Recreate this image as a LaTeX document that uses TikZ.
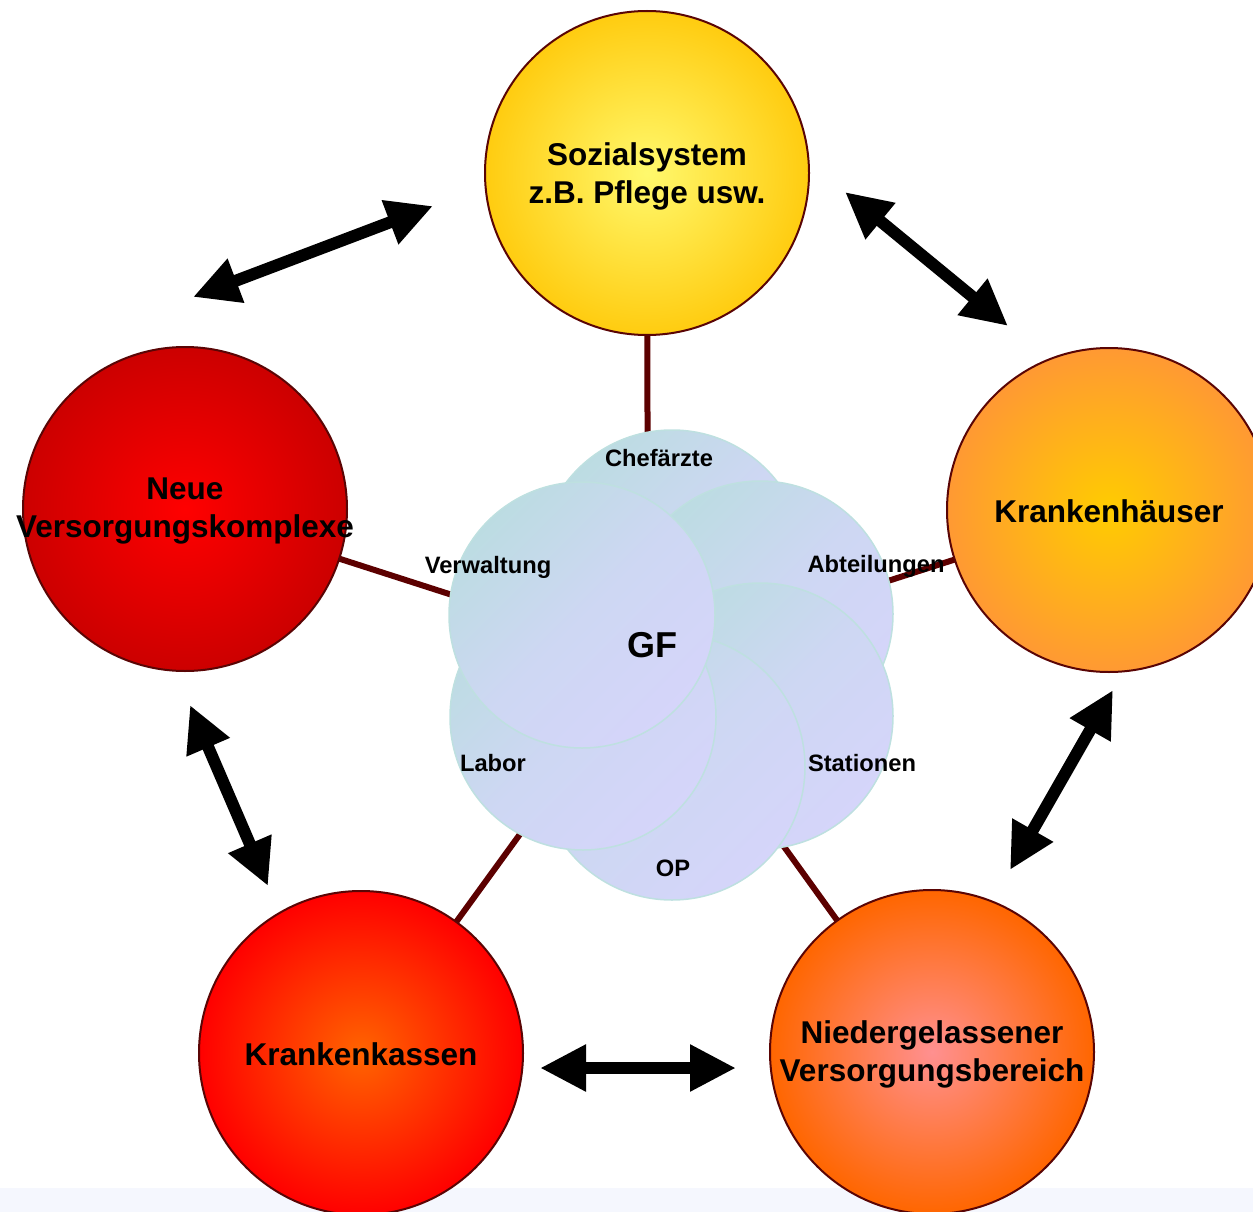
\documentclass[tikz,border=0pt]{standalone}
\usepackage{fontspec}
\setmainfont{Liberation Sans}
\usetikzlibrary{arrows.meta,backgrounds}
\definecolor{rand}{HTML}{5A0505}
\definecolor{linie}{HTML}{5C0000}
\definecolor{blaserand}{HTML}{BEE0E0}
\definecolor{tuerkis}{HTML}{BCDCE2}
\definecolor{lila}{HTML}{D5D5FA}
\definecolor{streifen}{HTML}{F5F7FE}
\tikzset{
  kreis/.style={circle,draw=rand,line width=2pt,minimum size=324pt,inner sep=0pt},
  blase/.style={circle,draw=blaserand,line width=1.5pt,minimum size=266pt,inner sep=0pt,
    top color=tuerkis,bottom color=lila,middle color=lila!70!tuerkis,shading angle=45},
  gross/.style={font=\bfseries\fontsize{31.5}{38}\selectfont,align=center},
  klein/.style={font=\bfseries\fontsize{23.7}{28}\selectfont},
  verb/.style={draw=linie,line width=6pt},
  dpfeil/.style={{Triangle[length=46pt,width=44pt]}-{Triangle[length=46pt,width=44pt]},line width=12pt},
}
\begin{document}
\begin{tikzpicture}[x=1pt,y=-1pt]
  \useasboundingbox (0,0) rectangle (1253,1212);
  \node[kreis,inner color=yellow!55!white!95!orange,outer color={rgb,255:red,255;green,204;blue,16}] (soz) at (647,173) {};
  \node[kreis,inner color={rgb,255:red,255;green,204;blue,0},outer color={rgb,255:red,255;green,153;blue,51}] (kh) at (1109,510) {};
  \node[kreis,inner color={rgb,255:red,255;green,0;blue,0},outer color={rgb,255:red,204;green,0;blue,0}] (nvk) at (185,509) {};
  \node[kreis,inner color={rgb,255:red,255;green,100;blue,0},outer color={rgb,255:red,255;green,0;blue,0}] (kk) at (361,1053) {};
  \node[kreis,inner color={rgb,255:red,255;green,144;blue,144},outer color={rgb,255:red,255;green,102;blue,0}] (nvb) at (932,1052) {};
  \node[gross] (soz-t) at (647,176) {Sozialsystem\\z.B. Pflege usw.};
  \node[gross] (kh-t) at (1109,511) {Krankenhäuser};
  \node[gross] (nvk-t) at (185,511) {Neue\\Versorgungskomplexe};
  \node[gross] (kk-t) at (361,1054) {Krankenkassen};
  \node[gross] (nvb-t) at (932,1054) {Niedergelassener\\Versorgungsbereich};
  \foreach \n/\x/\y in {chef/672/563,abt/760/614,stat/760/716,op/672/767,labor/583/717,verw/582/615}
    \node[blase] (\n) at (\x,\y) {};
  \coordinate (mitte) at (648,658);
  \begin{pgfonlayer}{background}
    \fill[streifen] (0,1188) rectangle (1253,1212);
    \foreach \k in {soz,kh,nvk,kk,nvb}
      \draw[verb] (\k.center) -- (mitte);
  \end{pgfonlayer}
  \node[klein] (chef-t) at (659,458) {Chefärzte};
  \node[klein] (abt-t) at (876,566) {Abteilungen};
  \node[klein] (stat-t) at (862,763) {Stationen};
  \node[klein] (op-t) at (673,868) {OP};
  \node[klein] (labor-t) at (493,763) {Labor};
  \node[klein] (verw-t) at (488,567) {Verwaltung};
  \node[font=\bfseries\fontsize{36}{40}\selectfont] (gf) at (652,645) {GF};
  \coordinate (p1a) at (193,297); \coordinate (p1b) at (433,206);
  \coordinate (p2a) at (845,192); \coordinate (p2b) at (1008,326);
  \coordinate (p3a) at (1113,690); \coordinate (p3b) at (1010,870);
  \coordinate (p4a) at (540,1068); \coordinate (p4b) at (736,1068);
  \coordinate (p5a) at (190,705); \coordinate (p5b) at (268,886);
  \foreach \i in {1,...,5}
    \draw[dpfeil] (p\i a) -- (p\i b);
\end{tikzpicture}
\end{document}
